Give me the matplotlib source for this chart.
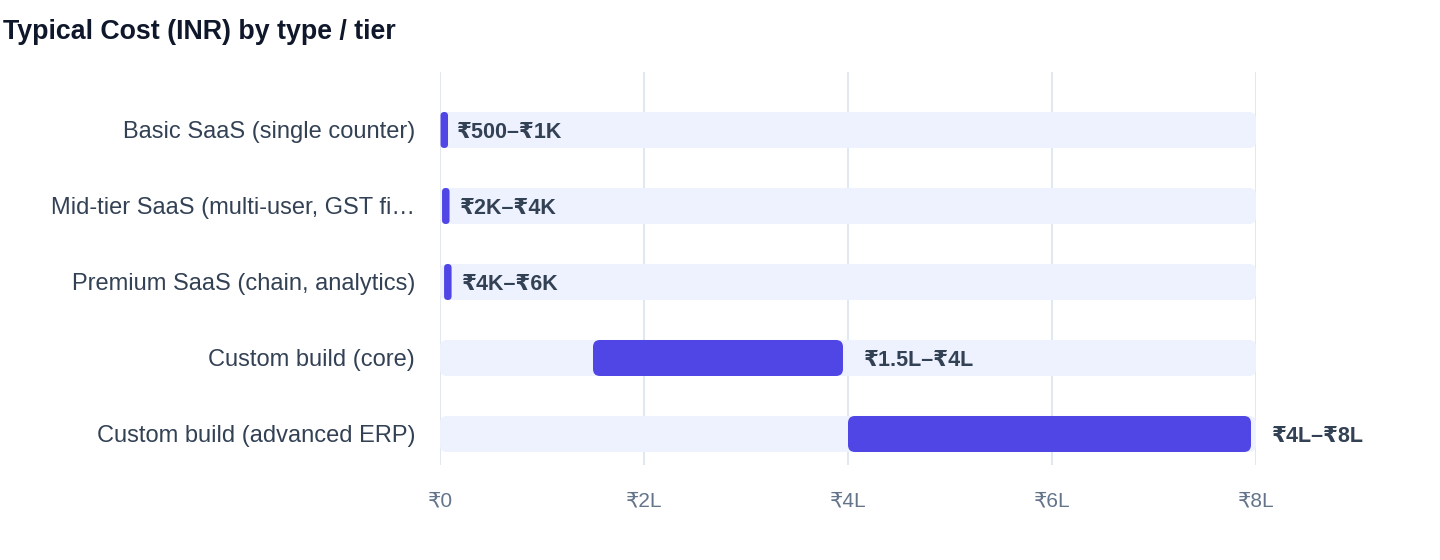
import matplotlib
matplotlib.use("Agg")
import matplotlib.pyplot as plt
from matplotlib.patches import FancyBboxPatch
from matplotlib.ticker import FixedLocator

plt.rcParams['font.family'] = ['Liberation Sans', 'DejaVu Sans']

# Data
categories = [
    "Basic SaaS (single counter)",
    "Mid-tier SaaS (multi-user, GST fi\u2026",
    "Premium SaaS (chain, analytics)",
    "Custom build (core)",
    "Custom build (advanced ERP)",
]
low = [500, 2000, 4000, 150000, 400000]
high = [1000, 4000, 6000, 400000, 800000]
range_labels = ["₹500–₹1K", "₹2K–₹4K", "₹4K–₹6K", "₹1.5L–₹4L", "₹4L–₹8L"]
tick_vals = [0, 200000, 400000, 600000, 800000]
tick_labels = ["₹0", "₹2L", "₹4L", "₹6L", "₹8L"]
track_max = 800000

BAR = "#4F46E5"
TRACK = "#EEF2FF"
GRID = "#E2E8F0"
TEXT = "#334155"

W, H = 1440, 560
fig = plt.figure(figsize=(W / 100, H / 100), dpi=100)
ax = fig.add_axes([440 / W, 1 - 465 / H, (1256 - 440) / W, (465 - 72) / H])

xmin, xmax = 0, 800000
ax.set_xlim(xmin, xmax)
ax.set_ylim(4.408, -0.763)

px_x = (1256 - 440) / (xmax - xmin)   # pixels per INR
px_y = 76.0                            # pixels per row
aspect = px_x / px_y
bar_h = 36 / px_y
min_w = 7.5 / px_x
end_inset = 5 / px_x


def rbox(x0, w, y, color, z, radius_px=7):
    r = min(radius_px / px_x, w / 2)
    p = FancyBboxPatch((x0, y - bar_h / 2), w, bar_h,
                       boxstyle=f"round,pad=0,rounding_size={r}",
                       mutation_aspect=aspect, fc=color, ec="none", zorder=z)
    ax.add_patch(p)


for i, (lo, hi, lab) in enumerate(zip(low, high, range_labels)):
    rbox(0, track_max, i, TRACK, 1)
    end = max(lo + min_w, hi - end_inset)
    rbox(lo, end - lo, i, BAR, 2)
    # label sits a fixed gap past the true range end
    ax.text(hi + 16 / px_x, i, lab, ha="left", va="center_baseline",
            fontsize=15.5, fontweight="bold", color=TEXT, zorder=3, clip_on=False)

ax.set_yticks(range(len(categories)))
ax.set_yticklabels(categories, fontsize=17, color=TEXT)
ax.tick_params(axis="y", length=0, pad=18)

ax.xaxis.set_major_locator(FixedLocator(tick_vals))
ax.set_xticklabels(tick_labels, fontsize=15, color="#64748B")
ax.tick_params(axis="x", length=0, pad=19)

ax.grid(axis="x", color=GRID, linewidth=1.5)
ax.set_axisbelow(True)
for s in ax.spines.values():
    s.set_visible(False)

fig.text(3 / W, 1 - 32 / H, "Typical Cost (INR) by type / tier", ha="left", va="center",
         fontsize=19.3, fontweight="bold", color="#0F172A")

fig.savefig("out.png", dpi=100, facecolor="white")
